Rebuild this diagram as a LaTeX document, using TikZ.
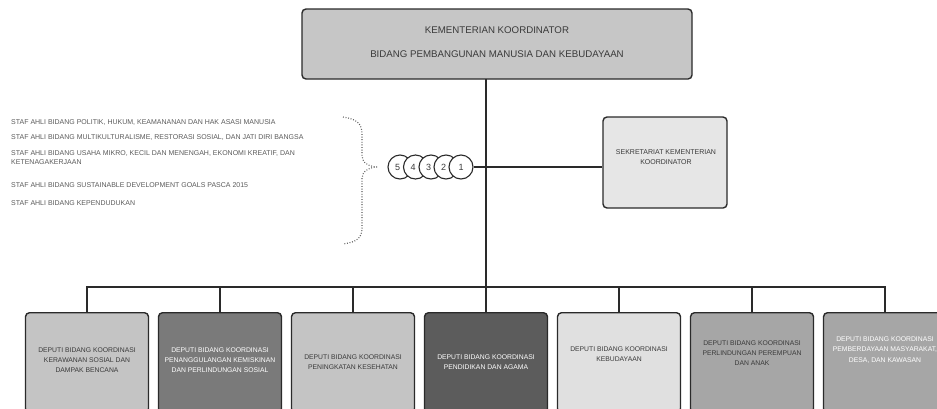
\documentclass[tikz,border=0pt]{standalone}
\usepackage{fontspec}
\setmainfont{Liberation Sans}
\definecolor{bordc}{HTML}{2A2A2A}
\definecolor{topfill}{HTML}{C6C6C6}
\definecolor{sekfill}{HTML}{E6E6E6}
\definecolor{fa}{HTML}{C4C4C4}
\definecolor{fb}{HTML}{7A7A7A}
\definecolor{fc}{HTML}{5C5C5C}
\definecolor{fd}{HTML}{E0E0E0}
\definecolor{fe}{HTML}{A6A6A6}
\definecolor{txtc}{HTML}{3A3A3A}
\definecolor{stafc}{HTML}{5A5A5A}
\begin{document}
\begin{tikzpicture}[x=1pt,y=-1pt,
  orgbox/.style={draw=bordc,line width=1.4pt,rounded corners=4pt,inner sep=0pt},
  deputi/.style={orgbox,minimum width=123pt,minimum height=100pt,anchor=north},
  btxt/.style={font=\fontsize{6.8}{10.3}\selectfont,align=center,text=txtc},
  btxtw/.style={btxt,text=white},
  staf/.style={font=\fontsize{7}{9}\selectfont,anchor=west,align=left,text=stafc,inner sep=0pt},
  conn/.style={draw=bordc,line width=1.2pt},
  num/.style={circle,draw=bordc,line width=1.1pt,fill=white,minimum size=24pt,inner sep=0pt,font=\fontsize{9}{9}\selectfont,text=txtc}]
\useasboundingbox (0,0) rectangle (937,408);
\begin{scope}
\clip (0,0) rectangle (937,408);
% top box
\node[orgbox,fill=topfill,minimum width=390pt,minimum height=70pt] (top) at (497,44) {};
\node[font=\fontsize{9.7}{10}\selectfont,text=txtc] (t1) at (497,30) {KEMENTERIAN KOORDINATOR};
\node[font=\fontsize{9.7}{10}\selectfont,text=txtc] (t2) at (497,54) {BIDANG PEMBANGUNAN MANUSIA DAN KEBUDAYAAN};
% sekretariat
\node[orgbox,fill=sekfill,minimum width=124pt,minimum height=91pt] (sek) at (665,162.5) {};
\node[btxt,font=\fontsize{7}{10.5}\selectfont] (sekt) at (666,157) {SEKRETARIAT KEMENTERIAN\\KOORDINATOR};
% main line
\coordinate (mtop) at (486,79);
\coordinate (bus) at (486,287);
\draw[conn] (mtop) -- (bus);
% bottom boxes
\node[deputi,fill=fa] (d1) at (87,312) {};
\node[deputi,fill=fb] (d2) at (220,312) {};
\node[deputi,fill=fa] (d3) at (353,312) {};
\node[deputi,fill=fc] (d4) at (486,312) {};
\node[deputi,fill=fd] (d5) at (619,312) {};
\node[deputi,fill=fe] (d6) at (752,312) {};
\node[deputi,fill=fe] (d7) at (885,312) {};
\node[btxt] (d1t) at (87,360) {DEPUTI BIDANG KOORDINASI\\KERAWANAN SOSIAL DAN\\DAMPAK BENCANA};
\node[btxtw] (d2t) at (220,360) {DEPUTI BIDANG KOORDINASI\\PENANGGULANGAN KEMISKINAN\\DAN PERLINDUNGAN SOSIAL};
\node[btxt] (d3t) at (353,362) {DEPUTI BIDANG KOORDINASI\\PENINGKATAN KESEHATAN};
\node[btxtw] (d4t) at (486,362) {DEPUTI BIDANG KOORDINASI\\PENDIDIKAN DAN AGAMA};
\node[btxt] (d5t) at (619,354) {DEPUTI BIDANG KOORDINASI\\KEBUDAYAAN};
\node[btxt] (d6t) at (752,353) {DEPUTI BIDANG KOORDINASI\\PERLINDUNGAN PEREMPUAN\\DAN ANAK};
\node[btxtw] (d7t) at (885,350) {DEPUTI BIDANG KOORDINASI\\PEMBERDAYAAN MASYARAKAT,\\DESA, DAN KAWASAN};
% bus
\draw[conn] (d1.north) |- (bus) -| (d7.north);
\foreach \n in {d2,d3,d4,d5,d6} \draw[conn] (\n.north) -- (\n.north |- bus);
% circles
\node[num] (c5) at (400,167) {\hspace{-5pt}5};
\node[num] (c4) at (415.5,167) {\hspace{-5pt}4};
\node[num] (c3) at (431,167) {\hspace{-5pt}3};
\node[num] (c2) at (446,167) {\hspace{-5pt}2};
\node[num] (c1) at (461,167) {1};
\draw[conn] (c1.east) -- (c1.east -| sek.west);
% brace
\draw[stafc,line width=1.1pt,dash pattern=on 0.9pt off 1.7pt]
  (343,117) .. controls (357,119) and (362,124) .. (362,134) -- (362,156)
  .. controls (362,163) and (370,167) .. (378,167)
  .. controls (370,167) and (362,171) .. (362,178) -- (362,228)
  .. controls (362,238) and (357,242) .. (343,244);
% staf ahli
\node[staf] (s1) at (11,122) {STAF AHLI BIDANG POLITIK, HUKUM, KEAMANANAN DAN HAK ASASI MANUSIA};
\node[staf] (s2) at (11,137) {STAF AHLI BIDANG MULTIKULTURALISME, RESTORASI SOSIAL, DAN JATI DIRI BANGSA};
\node[staf] (s3) at (11,157.5) {STAF AHLI BIDANG USAHA MIKRO, KECIL DAN MENENGAH, EKONOMI KREATIF, DAN\\KETENAGAKERJAAN};
\node[staf] (s4) at (11,185) {STAF AHLI BIDANG SUSTAINABLE DEVELOPMENT GOALS PASCA 2015};
\node[staf] (s5) at (11,203) {STAF AHLI BIDANG KEPENDUDUKAN};
\end{scope}
\end{tikzpicture}
\end{document}
